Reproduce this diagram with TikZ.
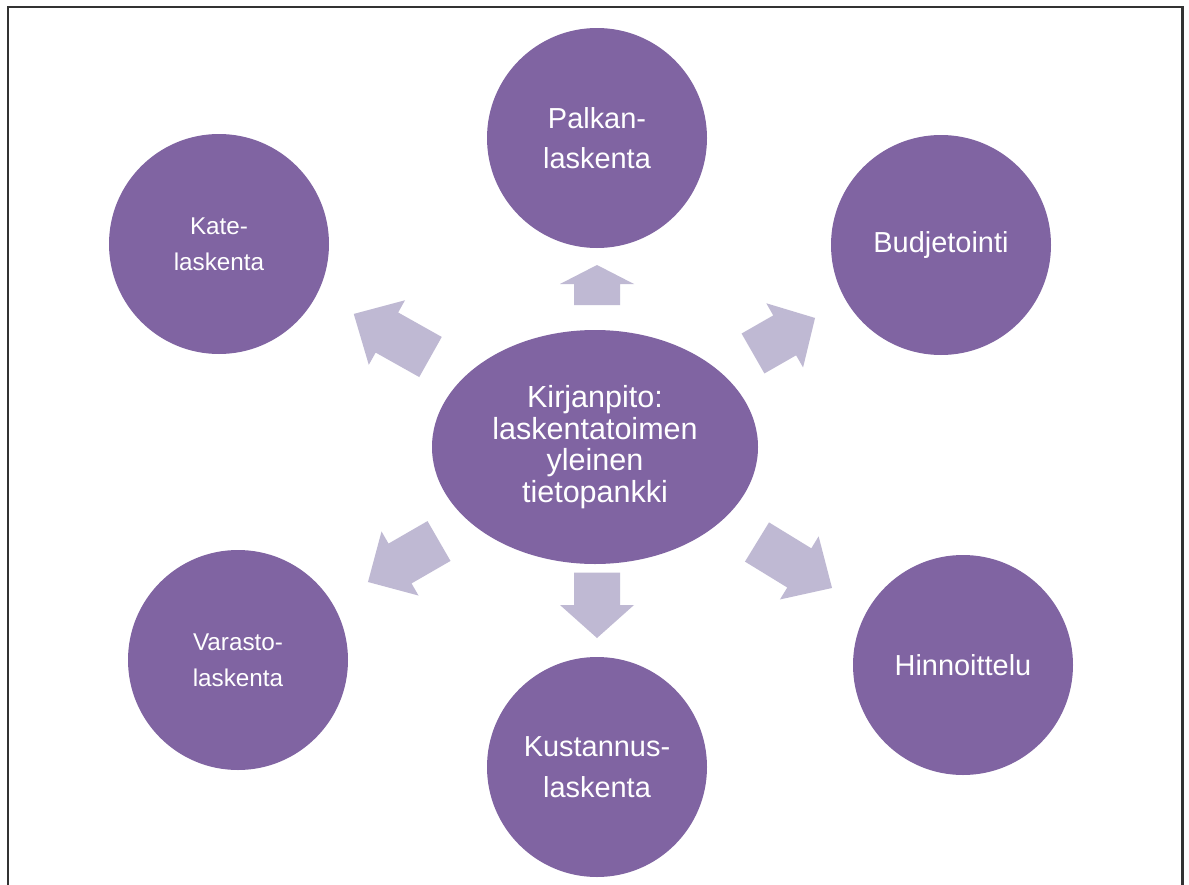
\documentclass[tikz,border=0pt]{standalone}
\usepackage{fontspec}
\setmainfont{Liberation Sans}
\usetikzlibrary{shapes.geometric}
\definecolor{circfill}{HTML}{8064A2}
\definecolor{arrfill}{HTML}{BFB9D3}
\definecolor{framecol}{HTML}{333333}
\newcommand\blockarr[4]{%
  \fill[arrfill,shift={(#1)},rotate=#2]
    (0,-23) -- ({#3-#4},-23) -- ({#3-#4},-37) -- (#3,0) --
    ({#3-#4},37) -- ({#3-#4},23) -- (0,23) -- cycle;}
\tikzset{
  circ/.style={circle,fill=circfill,draw=none,minimum size=165pt,inner sep=0pt,
    text=white,align=center,font=\fontsize{21.7}{30.5}\selectfont},
  smallcirc/.style={circ,font=\fontsize{18.2}{27}\selectfont},
  hub/.style={ellipse,fill=circfill,draw=none,minimum width=244.5pt,minimum height=175.5pt,
    inner sep=0pt,text=white,align=center,font=\fontsize{22.9}{23.6}\selectfont}
}
\begin{document}
\begin{tikzpicture}[x=0.75pt,y=-0.75pt]
\useasboundingbox (0,0) rectangle (1189,885);
\fill[white] (0,0) rectangle (1189,885);
\draw[framecol,line width=1.6pt] (8,900) -- (8,7) -- (1182.5,7) -- (1182.5,900);

\node[hub] (hub) at (595,447) {Kirjanpito:\\laskentatoimen\\yleinen\\tietopankki};
\node[circ] (palkan) at (597,138) {Palkan-\\laskenta};
\node[smallcirc] (kate) at (219,244) {Kate-\\laskenta};
\node[circ] (budjet) at (941,245) {Budjetointi};
\node[smallcirc] (varasto) at (238,660) {Varasto-\\laskenta};
\node[circ] (hinn) at (963,665) {Hinnoittelu};
\node[circ] (kust) at (597,767) {Kustannus-\\laskenta};

\blockarr{597,305}{90}{40}{19}
\blockarr{597,572.7}{-90}{65.3}{33}
\blockarr{430.5,357}{150.7}{88}{38}
\blockarr{753,353.5}{29.8}{71.5}{35}
\blockarr{439,541}{210}{82}{37}
\blockarr{757,542}{-31.5}{88}{38.4}
\end{tikzpicture}
\end{document}
